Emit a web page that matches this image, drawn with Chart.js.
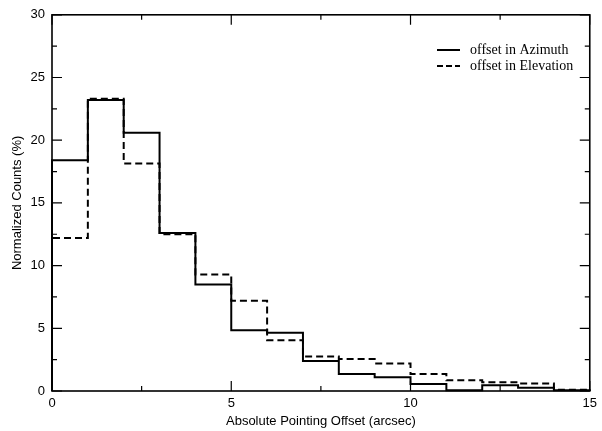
<!DOCTYPE html>
<html>
<head>
<meta charset="utf-8">
<script src="https://cdn.jsdelivr.net/npm/chart.js@4"></script>
<style>
  html, body { margin: 0; padding: 0; background: #fff; }
  #wrap { width: 602px; height: 431px; }
</style>
</head>
<body>
<div id="wrap"><canvas id="hist" width="602" height="431"></canvas></div>
<script>
// Histogram bins (arcsec), lower edges, width 1
const binLower = [0, 1, 2, 3, 4, 5, 6, 7, 8, 9, 10, 11, 12, 13, 14];
const binWidth = 1;

// Normalized counts (%) per bin
const azimuth = [18.4, 23.2, 20.6, 12.6, 8.5, 4.85, 4.65, 2.4, 1.35, 1.1, 0.55, 0.05, 0.45, 0.25, 0.05];
const elevation = [12.2, 23.3, 18.15, 12.5, 9.3, 7.2, 4.05, 2.75, 2.55, 2.2, 1.35, 0.85, 0.7, 0.6, 0.1];

const seriesNames = ['offset in Azimuth', 'offset in Elevation'];

const xMajor = [0, 5, 10, 15];
const xMinor = [2.5, 7.5, 12.5];
const yMajor = [0, 5, 10, 15, 20, 25, 30];
const yMinor = [2.5, 7.5, 12.5, 17.5, 22.5, 27.5];

// turn bin values into a closed step outline
function stepPoints(values) {
    const pts = [{ x: binLower[0], y: 0 }];
    values.forEach((v, i) => pts.push({ x: binLower[i], y: v }));
    const last = binLower[binLower.length - 1] + binWidth;
    pts.push({ x: last, y: values[values.length - 1] });
    pts.push({ x: last, y: 0 });
    return pts;
}

// frame with inward ticks on all four sides, plus the legend
const framePlugin = {
    id: 'frame',
    afterDraw(chart) {
        const { ctx, chartArea: a, scales: { x, y } } = chart;
        ctx.save();
        ctx.strokeStyle = '#000';
        ctx.lineWidth = 1.6;
        ctx.strokeRect(a.left, a.top, a.right - a.left, a.bottom - a.top);

        ctx.lineWidth = 1.2;
        const tick = (vals, len) => {
            vals.forEach(v => {
                const px = x.getPixelForValue(v);
                ctx.beginPath();
                ctx.moveTo(px, a.bottom); ctx.lineTo(px, a.bottom - len);
                ctx.moveTo(px, a.top); ctx.lineTo(px, a.top + len);
                ctx.stroke();
            });
        };
        const ytick = (vals, len) => {
            vals.forEach(v => {
                const py = y.getPixelForValue(v);
                ctx.beginPath();
                ctx.moveTo(a.left, py); ctx.lineTo(a.left + len, py);
                ctx.moveTo(a.right, py); ctx.lineTo(a.right - len, py);
                ctx.stroke();
            });
        };
        tick(xMajor, 10); tick(xMinor, 5);
        ytick(yMajor, 10); ytick(yMinor, 5);

        // legend
        ctx.font = '14px "Liberation Serif", "Times New Roman", serif';
        ctx.fillStyle = '#000';
        ctx.textBaseline = 'middle';
        const lx = 437, tx = 470;
        [[50, []], [66, [6, 3]]].forEach(([ly, dash], i) => {
            ctx.setLineDash(dash);
            ctx.lineWidth = 2;
            ctx.beginPath();
            ctx.moveTo(lx, ly); ctx.lineTo(lx + 23, ly);
            ctx.stroke();
            ctx.setLineDash([]);
            ctx.fillText(seriesNames[i], tx, ly);
        });
        ctx.restore();
    }
};

const tickFont = { family: '"Liberation Sans", Arial, sans-serif', size: 13 };

new Chart(document.getElementById('hist'), {
    type: 'line',
    data: {
        datasets: [
            {
                label: seriesNames[0],
                data: stepPoints(azimuth),
                stepped: 'before',
                borderColor: '#000',
                borderWidth: 2,
                pointRadius: 0,
                fill: false,
                clip: 4
            },
            {
                label: seriesNames[1],
                data: stepPoints(elevation),
                stepped: 'before',
                borderColor: '#000',
                borderWidth: 2,
                borderDash: [7, 4],
                pointRadius: 0,
                fill: false,
                clip: 4
            }
        ]
    },
    options: {
        responsive: false,
        animation: false,
        layout: { padding: { top: 12, right: 8, left: 0, bottom: 0 } },
        plugins: {
            legend: { display: false },
            tooltip: { enabled: false }
        },
        scales: {
            x: {
                type: 'linear',
                min: 0,
                max: 15,
                afterFit: (s) => { s.height = 40; },
                afterBuildTicks: (s) => { s.ticks = xMajor.map(v => ({ value: v })); },
                grid: { display: false, drawTicks: false },
                border: { display: false },
                ticks: { color: '#000', font: tickFont, padding: 5, maxRotation: 0 },
                title: {
                    display: true,
                    text: 'Absolute Pointing Offset (arcsec)',
                    color: '#000',
                    font: tickFont,
                    padding: { top: 0, bottom: 2 }
                }
            },
            y: {
                min: 0,
                max: 30,
                afterFit: (s) => { s.width = 52; },
                afterBuildTicks: (s) => { s.ticks = yMajor.map(v => ({ value: v })); },
                grid: { display: false, drawTicks: false },
                border: { display: false },
                ticks: { color: '#000', font: tickFont, padding: 7 },
                title: {
                    display: true,
                    text: 'Normalized Counts (%)',
                    color: '#000',
                    font: tickFont,
                    padding: { top: 10, bottom: 0 }
                }
            }
        }
    },
    plugins: [framePlugin]
});
</script>
</body>
</html>
